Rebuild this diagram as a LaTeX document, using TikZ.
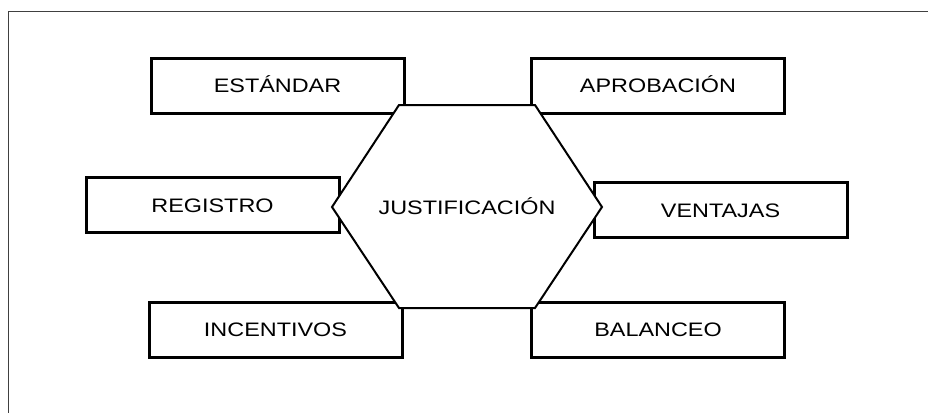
\documentclass[tikz,border=0pt]{standalone}
\usepackage{fontspec}
\setmainfont{Liberation Sans}[FakeStretch=1.2]
\begin{document}
\begin{tikzpicture}[x=1pt,y=-1pt,
  topicbox/.style={draw=black, line width=3pt, fill=white, minimum width=253pt, minimum height=55pt,
    inner sep=0pt, font=\fontsize{19.5}{20}\selectfont, text height=14pt, text depth=0pt, align=center},
  hexline/.style={draw=black, line width=2pt, fill=white, line join=miter},
  frameline/.style={draw=black!75, line width=1pt},
  centertext/.style={inner sep=0pt, font=\fontsize{19.5}{20}\selectfont, text height=14.5pt, text depth=0pt}]
\useasboundingbox (0,0) rectangle (928,413);
% frame (top and left edges)
\coordinate (fTL) at (8,11);
\coordinate (fTR) at (928,11);
\coordinate (fBL) at (8,413);
\draw[frameline] (fTR) -- (fTL) -- (fBL);
% boxes
\node[topicbox] (estandar) at (277.5,85.5) {ESTÁNDAR};
\node[topicbox] (aprobacion) at (658,85.5) {APROBACIÓN};
\node[topicbox] (registro) at (212.5,205) {REGISTRO};
\node[topicbox] (ventajas) at (720.5,210) {VENTAJAS};
\node[topicbox] (incentivos) at (275.5,329.5) {INCENTIVOS};
\node[topicbox] (balanceo) at (658,329.5) {BALANCEO};
% hexagon
\coordinate (h1) at (399,105);
\coordinate (h2) at (535,105);
\coordinate (h3) at (602,207);
\coordinate (h4) at (535,308);
\coordinate (h5) at (399,308);
\coordinate (h6) at (332,207);
\draw[hexline] (h1) -- (h2) -- (h3) -- (h4) -- (h5) -- (h6) -- cycle;
\node[centertext] (justificacion) at (467,207.5) {JUSTIFICACIÓN};
\end{tikzpicture}
\end{document}
